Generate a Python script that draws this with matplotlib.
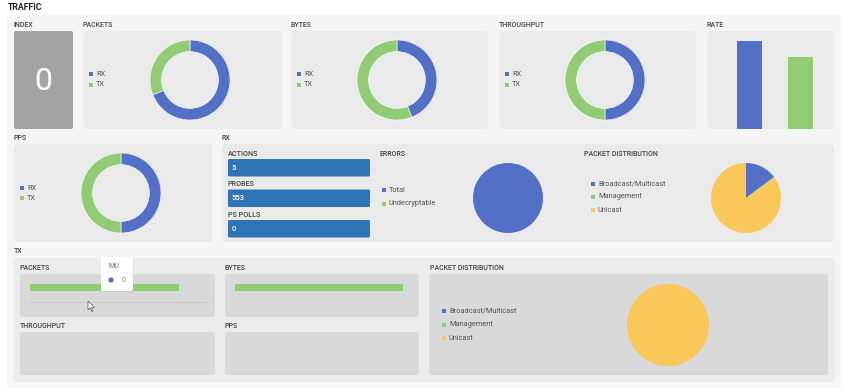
import matplotlib
matplotlib.use("Agg")
import matplotlib.pyplot as plt
from matplotlib.patches import FancyBboxPatch, Rectangle, Circle, Polygon

plt.rcParams['font.family'] = ['Roboto', 'DejaVu Sans']

W, H = 845, 390
BLUE, GREEN, YELLOW = "#5470c6", "#91cc75", "#fac858"
TILE = "#2f74b5"

# ----------------------------------------------------------------------
# Data
# ----------------------------------------------------------------------
rx_tx_labels = ["RX", "TX"]
packets_share = [69, 31]
bytes_share = [44, 56]
throughput_share = [50, 50]
pps_share = [50, 50]
rate_values = [90, 73]
index_value = 0

rx_stat_labels = ["ACTIONS", "PROBES", "PS POLLS"]
rx_stat_values = [5, 553, 0]

error_labels = ["Total", "Undecryptable"]
error_values = [1, 0]

dist_labels = ["Broadcast/Multicast", "Management", "Unicast"]
rx_dist_values = [14.7, 0.5, 84.8]
tx_dist_values = [0, 0, 100]

tx_packets_value = [1.0]
tx_bytes_value = [1.0]
tooltip_label = "MU"
tooltip_value = 0


# ----------------------------------------------------------------------
# Helpers (pixel coordinates, origin top-left)
# ----------------------------------------------------------------------
fig = plt.figure(figsize=(W / 100, H / 100), dpi=100)
fig.patch.set_facecolor("white")
bg = fig.add_axes([0, 0, 1, 1])
bg.set_xlim(0, W)
bg.set_ylim(H, 0)
bg.axis("off")


def box(x, y, w, h, color, r=3, **kw):
    bg.add_patch(FancyBboxPatch((x, y), w, h,
                                boxstyle=f"round,pad=0,rounding_size={r}",
                                fc=color, ec="none", **kw))


def label(x, y, s, size=5, color="#444444", weight="medium"):
    bg.text(x, y, s, fontsize=size, color=color, va="center", ha="left",
            fontweight=weight)


def px_axes(x, y, w, h):
    ax = fig.add_axes([x / W, 1 - (y + h) / H, w / W, h / H])
    ax.patch.set_visible(False)
    return ax


def legend(x, y0, dy, labels, colors):
    for i, (lab, c) in enumerate(zip(labels, colors)):
        y = y0 + i * dy
        bg.add_patch(Rectangle((x, y - 2), 4, 4, fc=c, ec="none"))
        bg.text(x + 7, y, lab, fontsize=5.3, color="#555555", va="center")


def donut(cx, cy, r, values):
    ax = px_axes(cx - r, cy - r, 2 * r, 2 * r)
    ax.pie(values, colors=[BLUE, GREEN], startangle=90, counterclock=False,
           wedgeprops=dict(width=0.29, edgecolor="white", linewidth=0.4))
    ax.set_xlim(-1, 1)
    ax.set_ylim(-1, 1)
    ax.axis("off")


def pie(cx, cy, r, values, colors):
    ax = px_axes(cx - r, cy - r, 2 * r, 2 * r)
    ax.pie(values, colors=colors, startangle=90, counterclock=False,
           wedgeprops=dict(linewidth=0))
    ax.set_xlim(-1, 1)
    ax.set_ylim(-1, 1)
    ax.axis("off")


# ----------------------------------------------------------------------
# Backgrounds
# ----------------------------------------------------------------------
label(8, 7, "TRAFFIC", size=6.3, color="#222222", weight="bold")
box(7, 15, 834, 373, "#f5f5f5", r=4)

# top row
label(14, 25, "INDEX")
box(14, 31, 59, 98, "#a3a3a3", r=2)
bg.text(43.5, 81, str(index_value), fontsize=23, color="white",
        fontweight="normal", ha="center", va="center")

for x, w, title in [(83, 198, "PACKETS"), (291, 197, "BYTES"),
                    (499, 197, "THROUGHPUT"), (707, 127, "RATE")]:
    label(x, 25, title)
    box(x, 31, w, 98, "#eaeaea")

donut(190, 80, 40, packets_share)
legend(89, 74, 10.5, rx_tx_labels, [BLUE, GREEN])
donut(397, 80, 40, bytes_share)
legend(297, 74, 10.5, rx_tx_labels, [BLUE, GREEN])
donut(605, 80, 40, throughput_share)
legend(505, 74, 10.5, rx_tx_labels, [BLUE, GREEN])

ax = px_axes(724, 31, 102, 98)
ax.bar(range(len(rate_values)), rate_values, width=0.49, color=[BLUE, GREEN])
ax.set_xlim(-0.5, 1.5)
ax.set_ylim(0, 100)
ax.axis("off")

# second row
label(14, 138, "PPS")
box(14, 144, 198, 98, "#eaeaea")
donut(121, 193, 40, pps_share)
legend(20, 188, 10, rx_tx_labels, [BLUE, GREEN])

label(222, 138, "RX")
box(222, 144, 612, 98, "#eaeaea")
for i, (lab, val) in enumerate(zip(rx_stat_labels, rx_stat_values)):
    y = 159 + i * 30.5
    label(228, y - 5, lab, size=5.2)
    box(228, y, 142, 17.5, TILE, r=1.5)
    bg.text(232, y + 9, str(val), fontsize=5.5, color="white", va="center",
            fontweight="medium")

label(380, 154, "ERRORS")
legend(382, 190, 13.5, error_labels, [BLUE, GREEN])
pie(508, 198, 35, error_values, [BLUE, GREEN])

label(584, 154, "PACKET DISTRIBUTION")
legend(591, 184, 13, dist_labels, [BLUE, GREEN, YELLOW])
pie(746, 198, 35, rx_dist_values, [BLUE, GREEN, YELLOW])

# third row (TX)
label(14, 251, "TX")
box(14, 258, 821, 124, "#ebebeb")
for x, y, w, title in [(20, 274, 195, "PACKETS"), (225, 274, 194, "BYTES"),
                       (20, 332, 195, "THROUGHPUT"), (225, 332, 194, "PPS")]:
    label(x, y - 6, title)
    box(x, y, w, 43, "#d9d9d9")

ax = px_axes(30, 280, 179, 22)
ax.barh([0], tx_packets_value, height=0.6, color=GREEN)
ax.set_xlim(0, 1.2)
ax.set_ylim(-1.24, 0.64)
for s in ["top", "left", "right"]:
    ax.spines[s].set_visible(False)
ax.spines["bottom"].set_linestyle((0, (3, 2)))
ax.spines["bottom"].set_color("#c4c4c4")
ax.spines["bottom"].set_linewidth(0.6)
ax.set_xticks([])
ax.set_yticks([])

ax = px_axes(235, 280, 168, 22)
ax.barh([0], tx_bytes_value, height=0.6, color=GREEN)
ax.set_xlim(0, 1.0)
ax.set_ylim(-1.24, 0.64)
ax.axis("off")

label(430, 268, "PACKET DISTRIBUTION")
box(429, 274, 399, 101, "#d9d9d9")
legend(442, 311, 13.5, dist_labels, [BLUE, GREEN, YELLOW])
pie(668, 325, 41, tx_dist_values, [BLUE, GREEN, YELLOW])

# tooltip and cursor over TX packets
tip = fig.add_axes([0, 0, 1, 1])
tip.set_xlim(0, W)
tip.set_ylim(H, 0)
tip.axis("off")
tip.add_patch(FancyBboxPatch((101.5, 258), 32, 34, boxstyle="round,pad=0,rounding_size=2",
                             fc="#00000012", ec="none"))
tip.add_patch(FancyBboxPatch((101, 257), 32, 34, boxstyle="round,pad=0,rounding_size=2",
                             fc="white", ec="none"))
tip.text(108, 267, tooltip_label, fontsize=5, color="#666666", va="center")
tip.add_patch(Circle((111, 280), 2.6, fc=BLUE, ec="none"))
tip.text(122, 280, str(tooltip_value), fontsize=5, color="#888888", va="center")
cx, cy = 88, 301
tip.add_patch(Polygon([(cx, cy), (cx, cy + 9), (cx + 2.2, cy + 7), (cx + 3.8, cy + 10.5),
                       (cx + 5, cy + 10), (cx + 3.5, cy + 6.5), (cx + 6.5, cy + 6.5)],
                      closed=True, fc="white", ec="#555555", lw=0.5))

fig.savefig("out.png", dpi=100)
